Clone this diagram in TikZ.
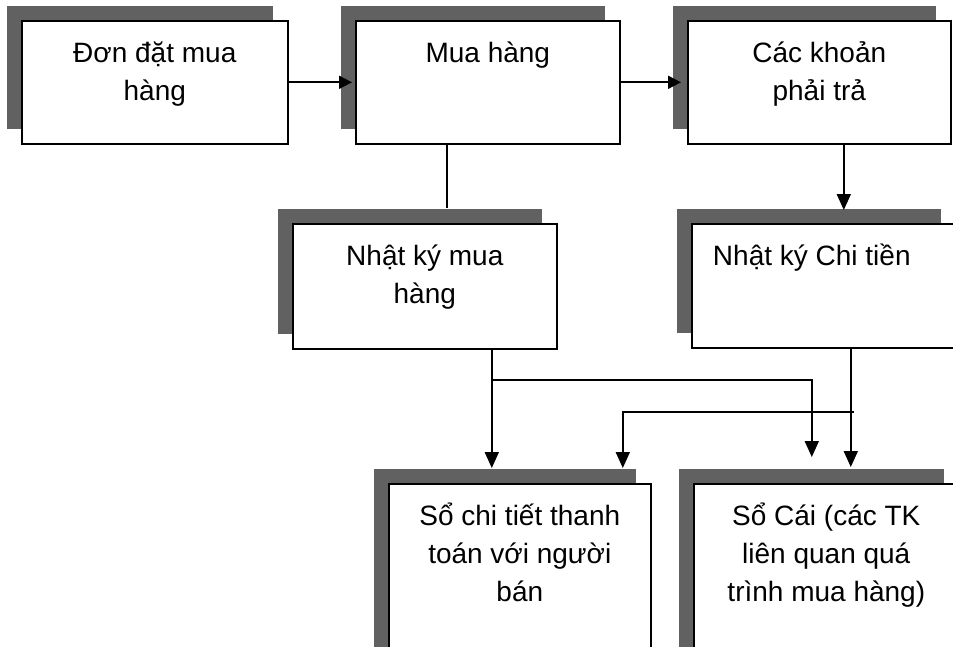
\documentclass[tikz,border=0pt]{standalone}
\usepackage{fontspec}
\setmainfont{Liberation Sans}
\usetikzlibrary{arrows.meta,shadows,calc}
\newcommand\boxtext[3]{\parbox[c][#2][t]{#1}{\centering\rule{0pt}{42pt}#3}}
\begin{document}
\begin{tikzpicture}[x=1pt,y=-1pt,
  box/.style={draw=black, line width=1.6pt, fill=white, inner sep=0pt, anchor=north west,
    general shadow={fill=black!62, shadow xshift=-15pt, shadow yshift=15pt}},
  conn/.style={draw=black, line width=1.8pt},
  arr/.style={conn, -{Triangle[length=16pt,width=14pt]}},
  arrs/.style={conn, -{Triangle[length=13pt,width=13pt]}},
  font=\fontsize{28}{38}\selectfont]
\useasboundingbox (0,0) rectangle (953,646);
\clip (0,0) rectangle (953,646);
\fill[white] (0,0) rectangle (953,646);

\node[box] (b1) at (21,20) {\boxtext{266pt}{123pt}{Đơn đặt mua\\hàng}};
\node[box] (b2) at (355,20) {\boxtext{264pt}{123pt}{Mua hàng}};
\node[box] (b3) at (687,20) {\boxtext{263pt}{123pt}{Các khoản\\phải trả}};
\node[box] (b4) at (292,223) {\boxtext{264pt}{125pt}{Nhật ký mua\\hàng}};
\node[box] (b5) at (691,223) {\boxtext{264pt}{124pt}{Nhật ký Chi tiền\hspace*{24pt}}};
\node[box] (b6) at (388,483) {\boxtext{262pt}{190pt}{Sổ chi tiết thanh\\toán với người\\bán}};
\node[box] (b7) at (693,483) {\boxtext{265pt}{190pt}{Sổ Cái (các TK\\liên quan quá\\trình mua hàng)}};

\draw[arrs, shorten >=3pt] (b1.east) -- (b2.west);
\draw[arrs, shorten >=6pt] (b2.east) -- (b3.west);
\draw[conn] ([xshift=-41pt]b2.south) -- ([xshift=22pt,yshift=15pt]b4.north);
\draw[arr] ([xshift=24.5pt]b3.south) -- ([xshift=20pt,yshift=13pt]b5.north);

\coordinate (j1) at ($(b4.south)+(67,30)$);
\draw[arr] ([xshift=67pt]b4.south) -- ([xshift=-28pt,yshift=15pt]b6.north);
\draw[arr] (j1) -| ([xshift=-14.5pt,yshift=26pt]b7.north);

\coordinate (j2) at ($(b5.south)+(27,63)$);
\draw[arr] ([xshift=27pt]b5.south) -- ([xshift=24.5pt,yshift=16pt]b7.north);
\draw[arr] ($(j2)+(3,0)$) -| ([xshift=103pt,yshift=15pt]b6.north);
\end{tikzpicture}
\end{document}
